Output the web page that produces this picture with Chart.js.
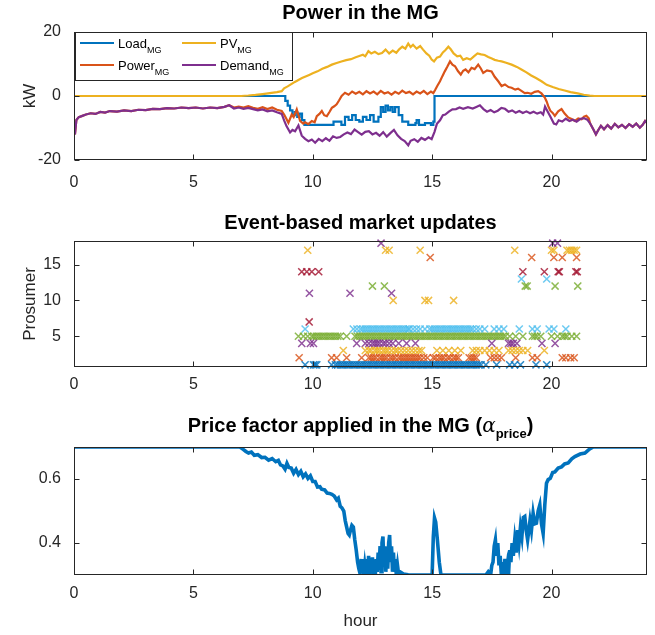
<!DOCTYPE html>
<html>
<head>
<meta charset="utf-8">
<script src="https://cdn.jsdelivr.net/npm/chart.js@4.4.1/dist/chart.umd.min.js"></script>
<style>
  html, body { margin: 0; padding: 0; background: #fff; }
  #wrap { position: relative; width: 655px; height: 635px; }
  canvas { position: absolute; left: 0; }
</style>
</head>
<body>
<div id="wrap">
  <canvas id="powerChart" width="655" height="200" style="top:0px"></canvas>
  <canvas id="eventChart" width="655" height="200" style="top:200px"></canvas>
  <canvas id="priceChart" width="655" height="235" style="top:400px"></canvas>
</div>
<script>
// ---- tick values ----
const hourTicks = [0, 5, 10, 15, 20];
const kwTicks = [-20, 0, 20];
const prosumerTicks = [5, 10, 15];
const priceTicks = [0.4, 0.6];

// ---- Power in the MG, [hour, kW] ----
const loadMG = [[0,0],[8.75,0],[8.85,-1.5],[8.95,-3],[9.05,-4.5],[9.15,-6],[9.25,-5],[9.35,-6.5],[9.45,-5.5],[9.55,-7.5],[9.65,-9],
  [10.5,-9],[10.87,-8],[11.2,-9],[11.35,-6.5],[11.5,-7.5],[11.65,-6],[11.8,-7.5],[11.95,-8],[12.1,-6.5],[12.25,-7.5],[12.4,-6],
  [12.55,-8],[12.75,-6.5],[12.85,-3.5],[12.95,-5],[13.05,-3],[13.15,-4.5],[13.25,-3.5],[13.35,-5],[13.45,-3.5],[13.6,-6],
  [13.75,-8],[14.0,-9],[14.3,-8.5],[14.35,-7.5],[14.45,-9],[14.7,-8.5],[14.95,-9],[15.05,-8],[15.1,0],[24,0]];

const pvMG = [[0,0],[7.0,0],[7.3,0.15],[7.6,0.35],[7.9,0.6],[8.2,0.9],[8.5,1.2],[8.7,1.5],[8.8,2.4],[8.95,3.0],[9.1,3.7],
  [9.25,4.4],[9.4,5.0],[9.55,5.6],[9.7,6.1],[9.85,6.6],[10.0,7.1],[10.2,7.7],[10.4,8.5],[10.6,9.1],[10.8,9.8],[11.0,10.3],
  [11.2,10.8],[11.4,11.2],[11.6,11.5],[11.8,12.1],[11.95,12.5],[12.1,12.9],[12.2,12.4],[12.33,14.0],[12.45,13.3],[12.6,13.8],
  [12.75,13.1],[12.9,13.4],[13.05,14.5],[13.2,13.3],[13.35,14.2],[13.5,13.5],[13.62,14.6],[13.75,15.4],[13.88,14.8],[14.0,16.4],
  [14.1,15.3],[14.2,16.0],[14.35,14.8],[14.5,15.6],[14.62,14.5],[14.76,13.3],[14.88,12.6],[14.98,11.4],[15.08,10.8],[15.2,12.0],
  [15.33,12.3],[15.45,13.6],[15.55,14.3],[15.68,15.4],[15.78,14.6],[15.9,13.3],[16.05,12.4],[16.18,12.6],[16.3,11.3],[16.45,11.8],
  [16.6,11.4],[16.75,12.4],[16.9,13.3],[17.05,13.0],[17.2,12.8],[17.35,12.2],[17.5,11.7],[17.62,11.3],[17.77,11.0],[17.91,10.8],
  [18.1,10.4],[18.33,9.8],[18.55,9.1],[18.74,8.3],[18.95,7.4],[19.15,6.4],[19.35,5.6],[19.58,4.6],[19.8,3.5],[20.05,2.8],
  [20.3,2.2],[20.55,1.7],[20.8,1.2],[21.1,0.8],[21.35,0.4],[21.6,0.1],[21.8,0],[24,0]];

const powerMG = [[0,-8.5],[0.04,-12],[0.1,-7.5],[0.2,-6.6],[0.35,-6.2],[0.5,-5.8],[0.7,-5.4],[0.9,-5.6],[1.1,-5.0],[1.3,-5.2],
  [1.5,-4.7],[1.8,-4.9],[2.1,-4.5],[2.4,-4.7],[2.7,-4.3],[3.0,-4.4],[3.3,-4.0],[3.6,-4.1],[3.9,-3.8],[4.2,-3.9],[4.5,-3.6],
  [4.8,-3.8],[5.1,-3.6],[5.4,-3.9],[5.7,-3.6],[6.0,-3.8],[6.3,-3.4],[6.5,-2.9],[6.7,-3.6],[6.9,-3.3],[7.1,-3.6],[7.3,-3.2],
  [7.5,-3.7],[7.7,-4.0],[7.9,-3.5],[8.1,-4.1],[8.3,-3.6],[8.5,-4.3],[8.7,-4.7],[8.8,-5.8],[8.9,-7.2],[8.98,-8.4],[9.12,-5.8],
  [9.2,-6.6],[9.33,-4.2],[9.47,-7.8],[9.6,-8.6],[9.68,-8.2],[9.82,-8.8],[9.96,-7.8],[10.08,-8.2],[10.17,-6.3],[10.28,-5.6],
  [10.38,-4.7],[10.48,-6.0],[10.59,-6.3],[10.7,-5.0],[10.8,-3.7],[10.9,-3.2],[11.0,-2.6],[11.1,-1.4],[11.21,0.0],[11.35,1.0],
  [11.5,0.4],[11.65,1.4],[11.8,0.7],[11.95,1.3],[12.1,0.5],[12.25,1.5],[12.4,0.8],[12.55,1.4],[12.7,0.5],[12.85,1.6],[13.0,0.8],
  [13.15,1.2],[13.3,0.4],[13.45,1.3],[13.6,0.7],[13.75,1.7],[13.9,0.9],[14.05,1.3],[14.2,0.5],[14.35,1.4],[14.5,0.8],[14.65,1.6],
  [14.8,0.6],[14.95,1.4],[15.05,0.9],[15.12,1.8],[15.22,3.2],[15.33,4.6],[15.43,6.2],[15.53,7.7],[15.64,9.2],[15.75,10.8],
  [15.85,9.8],[15.96,9.3],[16.08,7.8],[16.2,6.7],[16.3,7.9],[16.4,8.3],[16.52,7.4],[16.65,8.8],[16.78,8.4],[16.93,9.8],
  [17.04,8.6],[17.14,7.2],[17.3,8.0],[17.49,7.7],[17.62,6.0],[17.77,4.6],[17.91,3.1],[18.05,3.6],[18.2,2.8],[18.33,2.6],
  [18.48,2.0],[18.6,2.3],[18.74,1.6],[18.88,0.9],[19.0,1.0],[19.15,0.7],[19.3,1.3],[19.44,1.5],[19.58,0.8],[19.72,-0.5],
  [19.8,-1.8],[19.86,-3.1],[19.95,-4.6],[20.05,-5.3],[20.14,-6.2],[20.28,-4.8],[20.42,-4.1],[20.55,-5.5],[20.7,-6.7],
  [20.84,-7.2],[20.98,-7.8],[21.12,-7.0],[21.26,-7.3],[21.36,-6.5],[21.46,-6.2],[21.56,-7.0],[21.62,-8.6],[21.75,-10.4],
  [21.86,-12.0],[21.95,-10.8],[22.07,-9.3],[22.2,-10.4],[22.35,-9.1],[22.5,-10.2],[22.65,-8.7],[22.8,-9.8],[22.95,-9.0],
  [23.1,-10.0],[23.25,-8.8],[23.4,-9.6],[23.55,-8.6],[23.7,-9.9],[23.82,-9.0],[23.92,-7.8],[24,-8.4]];

const demandMG = [[0,-8.5],[0.04,-12],[0.1,-7.5],[0.2,-6.6],[0.35,-6.2],[0.5,-5.8],[0.7,-5.4],[0.9,-5.6],[1.1,-5.0],[1.3,-5.2],
  [1.5,-4.7],[1.8,-4.9],[2.1,-4.5],[2.4,-4.7],[2.7,-4.3],[3.0,-4.4],[3.3,-4.0],[3.6,-4.1],[3.9,-3.8],[4.2,-3.9],[4.5,-3.6],
  [4.8,-3.8],[5.1,-3.6],[5.4,-3.9],[5.7,-3.6],[6.0,-3.8],[6.3,-3.4],[6.5,-2.9],[6.7,-3.9],[6.9,-3.6],[7.1,-4.0],[7.3,-3.7],
  [7.5,-4.1],[7.7,-4.5],[7.9,-4.2],[8.1,-4.8],[8.3,-4.5],[8.5,-5.1],[8.7,-5.6],[8.8,-7.6],[8.9,-9.4],[9.05,-11.4],[9.15,-10.6],
  [9.26,-11.0],[9.4,-9.2],[9.54,-12.4],[9.68,-13.4],[9.82,-14.1],[9.96,-13.6],[10.1,-14.6],[10.25,-13.4],[10.4,-14.1],
  [10.55,-13.2],[10.7,-14.0],[10.85,-12.6],[11.0,-13.1],[11.15,-12.8],[11.3,-12.0],[11.45,-11.4],[11.6,-11.9],[11.75,-10.5],
  [11.9,-11.3],[12.05,-12.1],[12.2,-11.2],[12.35,-11.0],[12.5,-12.0],[12.65,-11.5],[12.8,-12.4],[12.95,-11.3],[13.1,-12.7],
  [13.25,-11.6],[13.4,-10.6],[13.55,-12.3],[13.7,-13.4],[13.85,-14.1],[14.0,-15.4],[14.1,-14.0],[14.25,-13.5],[14.4,-14.3],
  [14.55,-13.1],[14.7,-13.7],[14.85,-12.9],[14.98,-13.5],[15.1,-11.2],[15.2,-8.7],[15.33,-7.6],[15.45,-6.0],[15.55,-5.8],
  [15.7,-4.9],[15.85,-4.2],[16.0,-4.1],[16.15,-3.6],[16.3,-4.0],[16.5,-3.5],[16.7,-3.9],[16.85,-3.4],[17.0,-2.9],[17.15,-4.1],
  [17.3,-4.9],[17.45,-4.4],[17.6,-5.1],[17.75,-4.6],[17.9,-3.7],[18.05,-4.0],[18.2,-4.9],[18.35,-4.5],[18.5,-5.2],[18.65,-4.7],
  [18.8,-5.3],[18.95,-4.8],[19.1,-5.4],[19.25,-4.9],[19.4,-5.5],[19.55,-5.1],[19.65,-5.8],[19.73,-3.3],[19.82,-4.6],[19.95,-6.4],
  [20.1,-8.6],[20.2,-8.9],[20.3,-7.6],[20.45,-8.0],[20.6,-7.1],[20.75,-7.8],[20.9,-7.4],[21.05,-8.0],[21.2,-7.2],[21.35,-6.9],
  [21.5,-7.4],[21.62,-8.6],[21.75,-10.4],[21.86,-12.0],[21.95,-10.8],[22.07,-9.3],[22.2,-10.4],[22.35,-9.1],[22.5,-10.2],
  [22.65,-8.7],[22.8,-9.8],[22.95,-9.0],[23.1,-10.0],[23.25,-8.8],[23.4,-9.6],[23.55,-8.6],[23.7,-9.9],[23.82,-9.0],
  [23.92,-7.8],[24,-8.4]];

// ---- Event-based market updates: hours at which each prosumer updated ----
const p1 = [9.68,10.03,10.1,10.17,10.79,10.95,11.05,11.15,11.25,11.35,11.45,11.55,11.65,11.75,11.85,11.95,12.05,12.15,12.25,
  12.35,12.45,12.55,12.65,12.75,12.85,12.95,13.05,13.15,13.25,13.35,13.45,13.55,13.65,13.75,13.85,13.95,14.05,14.15,14.25,
  14.35,14.45,14.55,14.65,14.75,14.85,14.95,15.05,15.15,15.25,15.35,15.45,15.55,15.65,15.75,15.85,15.95,16.05,16.15,16.25,
  16.35,16.45,16.55,16.65,16.75,16.85,16.95,17.05,17.25,17.7,18.25,18.45,18.7,19.35,19.8];
const p2 = [9.43,10.79,11.0,11.42,12.05,12.35,12.45,12.55,12.65,12.8,12.9,13.0,13.1,13.25,13.35,13.45,13.6,13.7,13.8,13.9,
  14.0,14.1,14.2,14.3,14.4,14.5,14.65,14.8,15.05,15.15,15.3,15.4,15.5,15.65,15.75,15.9,16.0,16.1,16.55,16.65,16.75,16.85,
  17.45,17.6,17.75,17.9,18.5,19.2,19.4,20.45,20.6,20.8,20.95];
const p3 = [11.28,12.2,12.35,12.45,12.6,12.7,12.8,12.95,13.05,13.15,13.3,13.45,13.55,13.7,13.85,14.0,14.15,14.3,14.45,14.56,
  15.2,15.45,15.7,15.95,16.2,16.7,16.85,17.0,17.2,17.4,17.6,17.8,18.2,18.35,18.5,18.65,18.8,19.0,19.7];
const p4 = [9.54,9.9,10.03,11.84,12.2,12.35,12.5,12.6,12.7,12.8,12.95,13.05,13.2,13.35,13.6,13.93,14.3,17.5,18.2,18.3,18.4,
  18.55,19.6,20.15];
const p5 = [9.4,9.61,9.79,9.96,10.05,10.15,10.25,10.35,10.45,10.55,10.65,10.75,10.85,10.95,11.05,11.15,11.42,11.77,11.87,
  11.97,12.07,12.17,12.27,12.37,12.47,12.57,12.67,12.77,12.87,12.97,13.07,13.17,13.27,13.37,13.47,13.57,13.67,13.77,13.87,
  13.97,14.07,14.17,14.27,14.37,14.47,14.57,14.67,14.77,14.87,14.97,15.07,15.17,15.27,15.37,15.47,15.57,15.67,15.77,15.87,
  15.97,16.07,16.17,16.27,16.37,16.47,16.57,16.67,16.77,16.87,16.97,17.07,17.17,17.27,17.37,17.47,17.57,17.67,17.77,17.87,
  17.97,18.07,18.25,18.5,18.8,19.2,19.3,19.4,19.55,20.0,20.25,20.45,20.55,20.65,20.85,21.05];
const p6 = [9.68,11.7,11.85,12.0,12.1,12.2,12.3,12.4,12.5,12.6,12.7,12.8,12.9,13.0,13.1,13.2,13.3,13.4,13.5,13.6,13.7,13.8,
  13.9,14.0,14.05,14.2,14.35,14.5,14.7,14.9,15.0,15.1,15.2,15.3,15.4,15.5,15.6,15.7,15.8,15.9,16.0,16.1,16.2,16.3,16.4,16.5,
  16.6,16.7,16.85,17.0,17.2,17.6,17.8,18.0,18.65,19.2,19.4,19.9,20.1,20.6];
const p7 = [9.85];
const p8 = [];
const p9 = [];
const p10 = [13.37,14.7,14.85,15.9];
const p11 = [9.86,11.56,13.3];
const p12 = [12.5,13.0,18.9,18.98,20.15,21.1];
const p13 = [18.74,19.8];
const p14 = [9.54,9.75,9.96,10.25,18.8,19.7,20.28,20.33,21.02,21.08];
const p15 = [];
const p16 = [14.92,19.17,20.1,20.45,21.05];
const p17 = [9.79,13.05,13.2,14.5,18.46,20.0,20.1,20.65,20.75,20.85,20.95,21.05];
const p18 = [12.86,20.05,20.25];
const prosumerUpdates = [p1,p2,p3,p4,p5,p6,p7,p8,p9,p10,p11,p12,p13,p14,p15,p16,p17,p18];

// ---- Price factor alpha_price, [hour, value] ----
const priceAlpha = [[0,0.7],[6.95,0.7],[7.1,0.692],[7.2,0.686],[7.31,0.681],[7.43,0.684],[7.55,0.674],[7.7,0.676],[7.86,0.667],
  [8.0,0.668],[8.15,0.659],[8.3,0.664],[8.45,0.654],[8.56,0.658],[8.65,0.644],[8.75,0.641],[8.84,0.631],[8.92,0.649],[9.0,0.636],
  [9.1,0.634],[9.2,0.618],[9.3,0.63],[9.4,0.614],[9.5,0.624],[9.6,0.607],[9.7,0.616],[9.8,0.602],[9.9,0.61],[10.0,0.592],
  [10.1,0.592],[10.2,0.575],[10.3,0.576],[10.37,0.568],[10.5,0.566],[10.6,0.556],[10.7,0.555],[10.8,0.552],[10.9,0.547],
  [11.0,0.535],[11.07,0.54],[11.15,0.515],[11.22,0.51],[11.3,0.5],[11.36,0.47],[11.42,0.45],[11.48,0.43],[11.53,0.425],
  [11.58,0.44],[11.64,0.455],[11.7,0.45],[11.76,0.41],[11.82,0.378],[11.88,0.34],[11.93,0.32],[11.98,0.305],[12.03,0.35],
  [12.06,0.31],[12.1,0.34],[12.14,0.3],[12.18,0.33],[12.22,0.305],[12.26,0.35],[12.3,0.3],[12.34,0.36],[12.38,0.3],
  [12.42,0.34],[12.46,0.31],[12.5,0.355],[12.54,0.3],[12.58,0.34],[12.62,0.3],[12.66,0.35],[12.7,0.31],[12.74,0.37],
  [12.78,0.32],[12.82,0.39],[12.86,0.31],[12.9,0.4],[12.94,0.42],[12.98,0.33],[13.02,0.39],[13.06,0.31],[13.1,0.38],
  [13.14,0.32],[13.18,0.4],[13.22,0.425],[13.26,0.34],[13.3,0.39],[13.34,0.31],[13.38,0.37],[13.42,0.31],[13.46,0.35],
  [13.5,0.3],[13.55,0.33],[13.6,0.3],[13.65,0.31],[13.8,0.303],[14.0,0.301],[14.2,0.3],[15.0,0.3],[15.05,0.42],[15.1,0.478],
  [15.15,0.465],[15.22,0.41],[15.3,0.34],[15.37,0.3],[17.25,0.3],[17.35,0.31],[17.45,0.3],[17.5,0.33],[17.55,0.34],
  [17.6,0.39],[17.65,0.41],[17.7,0.36],[17.75,0.4],[17.8,0.33],[17.85,0.36],[17.9,0.3],[17.95,0.34],[18.0,0.3],[18.05,0.35],
  [18.1,0.3],[18.15,0.33],[18.2,0.3],[18.25,0.378],[18.3,0.34],[18.35,0.4],[18.4,0.36],[18.46,0.41],[18.52,0.37],[18.58,0.44],
  [18.64,0.4],[18.7,0.45],[18.76,0.42],[18.82,0.48],[18.88,0.483],[18.94,0.44],[19.0,0.41],[19.05,0.44],[19.1,0.47],
  [19.16,0.44],[19.23,0.493],[19.3,0.46],[19.37,0.462],[19.44,0.5],[19.51,0.519],[19.58,0.46],[19.65,0.43],[19.72,0.52],
  [19.79,0.587],[19.86,0.598],[19.95,0.602],[20.05,0.62],[20.14,0.622],[20.28,0.634],[20.42,0.638],[20.55,0.647],[20.7,0.65],
  [20.85,0.663],[20.98,0.67],[21.2,0.678],[21.4,0.681],[21.6,0.694],[21.75,0.7],[24,0.7]];

// ---- styling ----
const matlabColors = ['#0072BD', '#D95319', '#EDB120', '#7E2F8E', '#77AC30', '#4DBEEE', '#A2142F'];
const markerColors = ['rgba(0,114,189,0.82)', 'rgba(217,83,25,0.82)', 'rgba(237,177,32,0.82)', 'rgba(126,47,142,0.82)',
  'rgba(119,172,48,0.82)', 'rgba(77,190,238,0.82)', 'rgba(162,20,47,0.82)'];
const FONT = '"Liberation Sans", Arial, Helvetica, sans-serif';
const AXIS_COLOR = '#262626';
const tickFont = {family: FONT, size: 16};
const labelFont = {family: FONT, size: 17};
const titleFont = {family: FONT, size: 20, weight: 'bold'};

Chart.defaults.font.family = FONT;
Chart.defaults.color = AXIS_COLOR;

const toXY = arr => arr.map(p => ({x: p[0], y: p[1]}));
const setTicks = list => scale => { scale.ticks = list.map(v => ({value: v})); };

// box round the axes with inward tick marks, like matlab
const axesBox = {
  id: 'axesBox',
  afterDatasetsDraw(chart) {
    const {ctx, chartArea: a, scales: {x, y}} = chart;
    const l = Math.round(a.left) + 0.5, r = Math.round(a.right) - 0.5;
    const t = Math.round(a.top) + 0.5, b = Math.round(a.bottom) - 0.5;
    ctx.save();
    ctx.strokeStyle = AXIS_COLOR;
    ctx.lineWidth = 1;
    ctx.strokeRect(l, t, r - l, b - t);
    ctx.beginPath();
    x.ticks.forEach(tk => {
      const px = Math.round(x.getPixelForValue(tk.value)) + 0.5;
      ctx.moveTo(px, b); ctx.lineTo(px, b - 5);
      ctx.moveTo(px, t); ctx.lineTo(px, t + 5);
    });
    y.ticks.forEach(tk => {
      const py = Math.round(y.getPixelForValue(tk.value)) + 0.5;
      ctx.moveTo(l, py); ctx.lineTo(l + 5, py);
      ctx.moveTo(r, py); ctx.lineTo(r - 5, py);
    });
    ctx.stroke();
    ctx.restore();
  }
};

// legend with subscripts (top left, two columns)
const mgLegend = {
  id: 'mgLegend',
  afterDraw(chart) {
    const {ctx, chartArea: a} = chart;
    const ds = chart.data.datasets;
    const left = Math.round(a.left) + 1, top = Math.round(a.top);
    ctx.save();
    ctx.fillStyle = '#fff';
    ctx.fillRect(left + 0.5, top + 0.5, 217, 48);
    ctx.strokeStyle = AXIS_COLOR;
    ctx.lineWidth = 1;
    ctx.strokeRect(left + 0.5, top + 0.5, 217, 48);
    ds.forEach(d => {
      const lx = left + (d.legendCol ? 107 : 5);
      const ly = top + (d.legendRow ? 33 : 11);
      ctx.strokeStyle = d.borderColor;
      ctx.lineWidth = 2;
      ctx.beginPath(); ctx.moveTo(lx, ly); ctx.lineTo(lx + 34, ly); ctx.stroke();
      ctx.fillStyle = '#000';
      ctx.textBaseline = 'alphabetic';
      ctx.font = '13px ' + FONT;
      ctx.fillText(d.label, lx + 38, ly + 5);
      const w = ctx.measureText(d.label).width;
      ctx.font = '9px ' + FONT;
      ctx.fillText(d.legendSub, lx + 38 + w, ly + 10);
    });
    ctx.restore();
  }
};

// title with greek letter and subscript for the price chart
const priceTitle = [
  {text: 'Price factor applied in the MG (', font: 'bold 20px ' + FONT, dy: 0},
  {text: 'α', font: 'italic 20px "DejaVu Serif", serif', dy: 0},
  {text: 'price', font: 'bold 13px ' + FONT, dy: 6},
  {text: ')', font: 'bold 20px ' + FONT, dy: 0}
];
const richTitle = {
  id: 'richTitle',
  afterDraw(chart, args, opts) {
    const {ctx, chartArea: a} = chart;
    ctx.save();
    ctx.fillStyle = '#000';
    ctx.textBaseline = 'alphabetic';
    let total = 0;
    opts.parts.forEach(p => { ctx.font = p.font; total += ctx.measureText(p.text).width; });
    let x = (a.left + a.right) / 2 - total / 2;
    const y = a.top - 15;
    opts.parts.forEach(p => {
      ctx.font = p.font;
      ctx.fillText(p.text, x, y + p.dy);
      x += ctx.measureText(p.text).width;
    });
    ctx.restore();
  }
};

function hourAxis(height, pad, extra) {
  return Object.assign({
    type: 'linear', min: 0, max: 24,
    afterBuildTicks: setTicks(hourTicks),
    afterFit: s => { s.height = height; },
    grid: {display: false}, border: {display: false},
    ticks: {font: tickFont, color: AXIS_COLOR, padding: pad, maxRotation: 0}
  }, extra || {});
}
function valueAxis(min, max, ticks, title) {
  return {
    type: 'linear', min: min, max: max,
    afterBuildTicks: setTicks(ticks),
    afterFit: s => { s.width = 74; },
    grid: {display: false}, border: {display: false},
    ticks: {font: tickFont, color: AXIS_COLOR, padding: 5},
    title: {display: !!title, text: title || '', font: labelFont, color: AXIS_COLOR, padding: {top: 20, bottom: 0}}
  };
}
const baseOptions = {
  responsive: false, animation: false, devicePixelRatio: 1, events: []
};

// ---------------- chart 1: power ----------------
new Chart(document.getElementById('powerChart'), {
  type: 'line',
  data: {
    datasets: [
      {label: 'Load', legendSub: 'MG', legendCol: 0, legendRow: 0, data: toXY(loadMG), borderColor: matlabColors[0],
        stepped: 'before', order: 4},
      {label: 'Power', legendSub: 'MG', legendCol: 0, legendRow: 1, data: toXY(powerMG), borderColor: matlabColors[1], order: 3},
      {label: 'PV', legendSub: 'MG', legendCol: 1, legendRow: 0, data: toXY(pvMG), borderColor: matlabColors[2], order: 2},
      {label: 'Demand', legendSub: 'MG', legendCol: 1, legendRow: 1, data: toXY(demandMG), borderColor: matlabColors[3], order: 1}
    ].map(d => Object.assign({borderWidth: 2.2, pointRadius: 0, tension: 0, fill: false, clip: 0}, d))
  },
  options: Object.assign({}, baseOptions, {
    layout: {padding: {left: 0, right: 8, top: 0, bottom: 0}},
    plugins: {
      legend: {display: false}, tooltip: {enabled: false},
      title: {display: true, fullSize: false, text: 'Power in the MG', font: titleFont, color: '#000',
        padding: {top: 1, bottom: 7}}
    },
    scales: {x: hourAxis(40, 5), y: valueAxis(-20, 20, kwTicks, 'kW')}
  }),
  plugins: [axesBox, mgLegend]
});

// ---------------- chart 2: market updates ----------------
new Chart(document.getElementById('eventChart'), {
  type: 'scatter',
  data: {
    datasets: prosumerUpdates.map((times, i) => ({
      label: 'Prosumer ' + (i + 1),
      data: times.map(t => ({x: t, y: i + 1})),
      pointStyle: 'crossRot', pointRadius: 5, borderWidth: 1.5, clip: false,
      borderColor: markerColors[i % 7], backgroundColor: markerColors[i % 7]
    }))
  },
  options: Object.assign({}, baseOptions, {
    layout: {padding: {left: 0, right: 8, top: 0, bottom: 0}},
    plugins: {
      legend: {display: false}, tooltip: {enabled: false},
      title: {display: true, fullSize: false, text: 'Event-based market updates', font: titleFont, color: '#000',
        padding: {top: 11, bottom: 6}}
    },
    scales: {x: hourAxis(33, 0), y: valueAxis(0.7, 18.3, prosumerTicks, 'Prosumer')}
  }),
  plugins: [axesBox]
});

// ---------------- chart 3: price factor ----------------
new Chart(document.getElementById('priceChart'), {
  type: 'line',
  data: {
    datasets: [{label: 'alpha_price', data: toXY(priceAlpha), borderColor: matlabColors[0], borderWidth: 3.6,
      pointRadius: 0, tension: 0, fill: false, clip: 0}]
  },
  options: Object.assign({}, baseOptions, {
    layout: {padding: {left: 0, right: 8, top: 47, bottom: 0}},
    plugins: {
      legend: {display: false}, tooltip: {enabled: false},
      richTitle: {parts: priceTitle}
    },
    scales: {
      x: hourAxis(60, 1, {title: {display: true, text: 'hour', font: labelFont, color: AXIS_COLOR, padding: {top: 0, bottom: 3}}}),
      y: valueAxis(0.3, 0.7, priceTicks, '')
    }
  }),
  plugins: [axesBox, richTitle]
});
</script>
</body>
</html>
